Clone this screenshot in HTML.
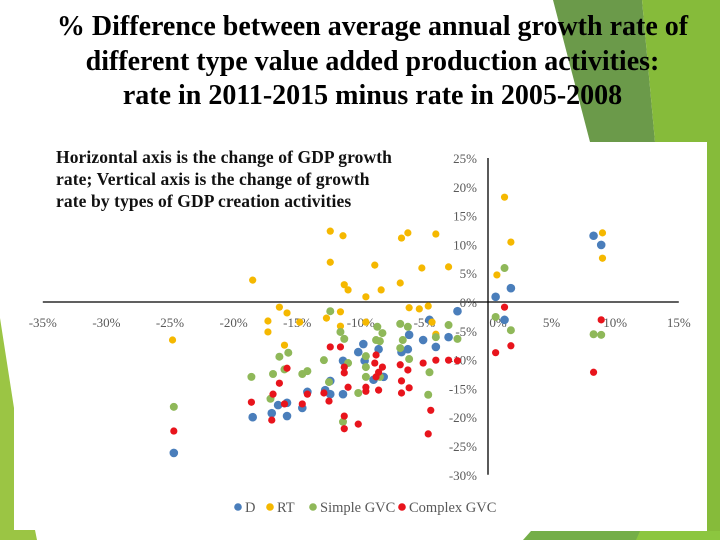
<!DOCTYPE html>
<html><head><meta charset="utf-8"><style>
html,body{margin:0;padding:0;background:#fff;}
#root{position:relative;width:720px;height:540px;overflow:hidden;background:#fff;font-family:"Liberation Serif",serif;}
.title{position:absolute;left:0;top:10px;width:745px;text-align:center;font-weight:bold;font-size:28px;line-height:34.5px;color:#000;}
.note{position:absolute;left:56px;top:146px;font-weight:bold;font-size:17.5px;line-height:22px;color:#111;letter-spacing:0.1px;}
svg{position:absolute;left:0;top:0;}
</style></head><body>
<div id="root">
<svg width="720" height="540">
  <polygon points="553,0 642,0 655,142 590,142" fill="#6b9a4a"/>
  <polygon points="642,0 720,0 720,540 707,540 707,142 655,142" fill="#86bb3a"/>
  <polygon points="531,531 720,531 720,540 523,540" fill="#74ae48"/>
  <polygon points="640,531 720,531 720,540 636,540" fill="#8cc63f"/>
  <polygon points="0,318 14,408 14,530 35,530 37,540 0,540" fill="#9bc544"/>
</svg>
<div class="title">% Difference between average annual growth rate of<br>different type value added production activities:<br>rate in 2011-2015 minus rate in 2005-2008</div>
<div class="note">Horizontal axis is the change of GDP growth<br>rate; Vertical axis is the change of growth<br>rate by types of GDP creation activities</div>
<svg id="chart" width="720" height="540"></svg>
</div>
<script>
const xTicks=[-35,-30,-25,-20,-15,-10,-5,0,5,10,15];
const yTicks=[25,20,15,10,5,0,-5,-10,-15,-20,-25,-30];
const seriesNames=["D","RT","Simple GVC","Complex GVC"];
const dX=[-24.7,-18.5,-17.0,-16.5,-15.8,-15.8,-14.6,-14.2,-12.8,-12.4,-12.4,-11.4,-11.4,-9.8,-10.2,-9.7,-8.6,-9.0,-8.2,-6.8,-6.3,-6.2,-5.1,-4.6,-4.1,-3.1,-2.4,0.6,1.8,1.3,8.3,8.9];
const dY=[-26.2,-20.0,-19.3,-17.9,-19.8,-17.5,-18.4,-15.6,-15.3,-13.7,-16.0,-10.2,-16.0,-7.3,-8.7,-10.2,-8.2,-13.5,-13.0,-8.7,-8.2,-5.7,-6.6,-3.1,-7.8,-6.1,-1.6,0.9,2.4,-3.1,11.5,9.9];
const rtX=[-12.4,-11.4,-12.4,-11.3,-11.0,-18.5,-8.9,-9.6,-8.4,-6.8,-6.3,-4.1,-5.2,-3.1,1.3,1.8,0.7,9.0,9.0,-24.8,-16.4,-15.8,-17.3,-17.3,-16.0,-14.8,-12.7,-11.6,-11.6,-6.9,-6.2,-5.4,-4.7,-4.4,-4.1,-9.6];
const rtY=[12.3,11.5,6.9,3.0,2.1,3.8,6.4,0.9,2.1,11.1,12.0,11.8,5.9,6.1,18.2,10.4,4.7,12.0,7.6,-6.6,-0.9,-1.9,-3.3,-5.2,-7.5,-3.5,-2.8,-1.7,-4.2,3.3,-1.0,-1.2,-0.7,-3.5,-5.6,-3.5];
const sgX=[-24.7,-18.6,-16.9,-17.1,-16.4,-15.7,-16.0,-14.6,-14.2,-12.9,-12.4,-12.5,-11.6,-11.3,-11.0,-11.4,-10.2,-9.6,-9.6,-9.6,-8.7,-8.8,-8.5,-8.3,-8.5,-6.9,-6.9,-6.7,-6.3,-6.2,-4.6,-4.7,-4.1,-3.1,-2.4,0.6,1.8,1.3,8.3,8.9];
const sgY=[-18.2,-13.0,-12.5,-16.8,-9.5,-8.8,-11.7,-12.5,-12.0,-10.1,-1.6,-13.9,-5.2,-6.4,-10.6,-20.8,-15.8,-9.4,-11.3,-13.0,-4.3,-6.6,-6.8,-5.4,-13.0,-3.8,-8.0,-6.6,-4.3,-9.9,-12.2,-16.1,-6.1,-4.0,-6.4,-2.6,-4.9,5.9,-5.6,-5.7];
const cgX=[-24.7,-18.6,-17.0,-16.9,-16.4,-16.0,-15.8,-14.6,-14.2,-12.9,-12.5,-12.4,-11.6,-11.3,-11.3,-11.0,-11.3,-11.3,-10.2,-9.6,-9.6,-8.8,-8.9,-8.6,-8.8,-8.3,-8.6,-6.9,-6.8,-6.8,-6.3,-6.2,-5.1,-4.1,-4.5,-4.7,-3.1,-2.4,0.6,1.3,1.8,8.3,8.9];
const cgY=[-22.4,-17.4,-20.5,-16.0,-14.1,-17.7,-11.5,-17.7,-16.0,-15.8,-17.2,-7.8,-7.8,-11.3,-12.3,-14.8,-19.8,-22.0,-21.2,-14.8,-15.5,-9.2,-10.6,-12.2,-13.0,-11.3,-15.3,-10.9,-13.7,-15.8,-11.8,-14.9,-10.6,-10.1,-18.8,-22.9,-10.1,-10.2,-8.8,-0.9,-7.6,-12.2,-3.1];
const colors=["#4a7ebb","#f5b800","#8fb859","#e8141c"];
const X0=488, XS=12.72, Y0=302, YS=5.76;
function sx(v){return X0+v*XS;}
function sy(v){return Y0-v*YS;}
const svg=document.getElementById('chart');
const NS='http://www.w3.org/2000/svg';
function mk(t,a){const e=document.createElementNS(NS,t);for(const k in a)e.setAttribute(k,a[k]);svg.appendChild(e);return e;}
let ax=mk('line',{x1:sx(-35),x2:sx(15),y1:sy(0),y2:sy(0),stroke:'#000','stroke-width':1.3});


let ay=mk('line',{x1:sx(0),x2:sx(0),y1:sy(25),y2:sy(-30),stroke:'#000','stroke-width':1.3});


xTicks.forEach(v=>{
  const t=mk('text',{x:sx(v)+(v===0?10:0),y:sy(0)+25,'text-anchor':'middle','font-size':13,fill:'#595959','font-family':'Liberation Serif, serif'});
  t.textContent=v+'%';
  
  
});
yTicks.forEach(v=>{
  const t=mk('text',{x:sx(0)-11,y:sy(v)+5,'text-anchor':'end','font-size':13,fill:'#595959','font-family':'Liberation Serif, serif'});
  t.textContent=v+'%';
  
  
});
const sets=[[dX,dY],[rtX,rtY],[sgX,sgY],[cgX,cgY]];
const radii=[4.3,3.6,4.0,3.6];
sets.forEach((s,i)=>{
  s[0].forEach((xv,j)=>{
    const c=mk('circle',{cx:sx(xv),cy:sy(s[1][j]),r:radii[i],fill:colors[i]});
    
    
  });
});
const legX=[238,270,313,402];
seriesNames.forEach((n,i)=>{
  const c=mk('circle',{cx:legX[i],cy:507,r:3.8,fill:colors[i]});
  
  
  const t=mk('text',{x:legX[i]+7,y:512,'font-size':14.5,fill:'#595959','font-family':'Liberation Serif, serif'});
  t.textContent=n;
  
  
});
</script>
</body></html>
